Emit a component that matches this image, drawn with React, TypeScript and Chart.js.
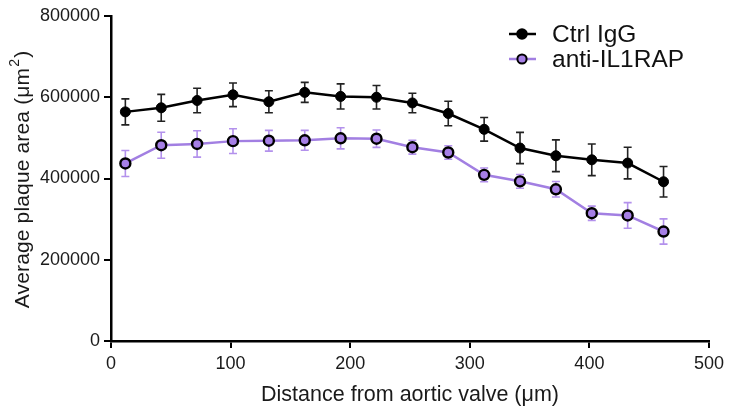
import React, { useEffect, useRef } from "react";
import { Chart, registerables } from "chart.js";

Chart.register(...registerables);

const distances = [12, 42, 72, 102, 132, 162, 192, 222, 252, 282, 312, 342, 372, 402, 432, 462];
const ctrlMean = [564000, 574000, 592000, 606000, 589000, 612000, 602000, 600000, 586000, 560000, 521000, 475000, 456000, 446000, 438000, 392000];
const ctrlSem = [32000, 33000, 30000, 29000, 27000, 24500, 31000, 29000, 24000, 30000, 29000, 38500, 39000, 39000, 39000, 37500];
const antiMean = [437000, 482000, 485000, 492000, 493000, 494000, 499000, 498000, 477000, 464000, 409000, 393000, 373500, 314500, 309000, 269500];
const antiSem = [32000, 32000, 32500, 30500, 25500, 24500, 26000, 21500, 17000, 16500, 17000, 17000, 19000, 17500, 31500, 31000];
const seriesNames = ["Ctrl IgG", "anti-IL1RAP"];
const xTicks = [0, 100, 200, 300, 400, 500];
const yTicks = [0, 200000, 400000, 600000, 800000];
const xTitle = "Distance from aortic valve (μm)";
const yTitleMain = "Average plaque area (μm";
const yTitleSup = "2";
const yTitleEnd = ")";

const FONT = "'Liberation Sans', Arial, sans-serif";
const TEXT = "#1a1a1a";
const BLACK = "#000000";
const PURPLE_LINE = "#a27fe2";
const PURPLE_FILL = "#a67fe6";
const PURPLE_ERR = "#b391ec";

export default function App() {
  const ref = useRef<HTMLCanvasElement | null>(null);

  useEffect(() => {
    if (!ref.current) return;
    const errs = [ctrlSem, antiSem];
    const means = [ctrlMean, antiMean];
    const errColors = ["#222222", PURPLE_ERR];

    const errorBars = {
      id: "errorBars",
      beforeDatasetsDraw(chart: any) {
        const ctx = chart.ctx;
        const ys = chart.scales.y;
        ctx.save();
        for (let d = 0; d < 2; d++) {
          const meta = chart.getDatasetMeta(d);
          ctx.strokeStyle = errColors[d];
          ctx.lineWidth = 1.6;
          meta.data.forEach((pt: any, j: number) => {
            const x = pt.x;
            const top = ys.getPixelForValue(means[d][j] + errs[d][j]);
            const bot = ys.getPixelForValue(means[d][j] - errs[d][j]);
            ctx.beginPath();
            ctx.moveTo(x, top);
            ctx.lineTo(x, bot);
            ctx.moveTo(x - 4, top);
            ctx.lineTo(x + 4, top);
            ctx.moveTo(x - 4, bot);
            ctx.lineTo(x + 4, bot);
            ctx.stroke();
          });
        }
        ctx.restore();
      },
    };

    const yTitlePlugin = {
      id: "yTitle",
      afterDraw(chart: any) {
        const ctx = chart.ctx;
        const area = chart.chartArea;
        ctx.save();
        ctx.translate(23, (area.top + area.bottom) / 2 + 1);
        ctx.rotate(-Math.PI / 2);
        ctx.fillStyle = TEXT;
        ctx.textBaseline = "middle";
        ctx.textAlign = "left";
        (ctx as any).letterSpacing = "0.15px";
        ctx.font = `21px ${FONT}`;
        const w1 = ctx.measureText(yTitleMain).width;
        const w3 = ctx.measureText(yTitleEnd).width;
        ctx.font = `14px ${FONT}`;
        const w2 = ctx.measureText(yTitleSup).width;
        const total = w1 + w2 + w3 + 2;
        let x = -total / 2;
        ctx.font = `21px ${FONT}`;
        ctx.fillText(yTitleMain, x, 0);
        x += w1 + 1;
        ctx.font = `14px ${FONT}`;
        ctx.fillText(yTitleSup, x, -8);
        x += w2 + 1;
        ctx.font = `21px ${FONT}`;
        ctx.fillText(yTitleEnd, x, 0);
        ctx.restore();
      },
    };

    const legend = {
      id: "customLegend",
      afterDraw(chart: any) {
        const ctx = chart.ctx;
        ctx.save();
        const rows = [
          { y: 34, line: BLACK, fill: BLACK, r: 4.8 },
          { y: 59, line: PURPLE_LINE, fill: PURPLE_FILL, r: 4.6 },
        ];
        rows.forEach((row, i) => {
          ctx.strokeStyle = row.line;
          ctx.lineWidth = 2.5;
          ctx.beginPath();
          ctx.moveTo(509, row.y);
          ctx.lineTo(536, row.y);
          ctx.stroke();
          ctx.beginPath();
          ctx.arc(522, row.y, row.r, 0, Math.PI * 2);
          ctx.fillStyle = row.fill;
          ctx.fill();
          ctx.strokeStyle = BLACK;
          ctx.lineWidth = 2;
          ctx.stroke();
          ctx.fillStyle = "#111111";
          ctx.font = `24.5px ${FONT}`;
          ctx.textAlign = "left";
          ctx.textBaseline = "middle";
          ctx.fillText(seriesNames[i], 552, row.y + 1);
        });
        ctx.restore();
      },
    };

    const chart = new Chart(ref.current, {
      type: "line",
      data: {
        datasets: [
          {
            label: seriesNames[0],
            data: distances.map((x, i) => ({ x, y: ctrlMean[i] })),
            borderColor: BLACK,
            borderWidth: 2.5,
            pointRadius: 5,
            pointBackgroundColor: BLACK,
            pointBorderColor: BLACK,
            pointBorderWidth: 1,
            tension: 0,
          },
          {
            label: seriesNames[1],
            data: distances.map((x, i) => ({ x, y: antiMean[i] })),
            borderColor: PURPLE_LINE,
            borderWidth: 2.5,
            pointRadius: 5,
            pointBackgroundColor: PURPLE_FILL,
            pointBorderColor: BLACK,
            pointBorderWidth: 2.4,
            tension: 0,
          },
        ],
      },
      options: {
        responsive: false,
        animation: false,
        devicePixelRatio: 1,
        layout: { padding: { left: 0, top: 16, right: 17, bottom: 0 } },
        plugins: { legend: { display: false }, tooltip: { enabled: false } },
        scales: {
          x: {
            type: "linear",
            min: 0,
            max: 500,
            afterFit: (s: any) => {
              s.height = 67;
            },
            afterBuildTicks: (s: any) => {
              s.ticks = xTicks.map((v) => ({ value: v }));
            },
            ticks: { color: TEXT, font: { family: FONT, size: 18 }, padding: 5, maxRotation: 0 },
            grid: { drawOnChartArea: false, drawTicks: true, tickLength: 7, color: BLACK, lineWidth: 2 },
            border: { display: true, color: BLACK, width: 2.5 },
            title: {
              display: true,
              text: xTitle,
              color: TEXT,
              font: { family: FONT, size: 21.5 },
              padding: { top: 0, bottom: 0 },
            },
          },
          y: {
            min: 0,
            max: 800000,
            afterFit: (s: any) => {
              s.width = 111;
            },
            afterBuildTicks: (s: any) => {
              s.ticks = yTicks.map((v) => ({ value: v }));
            },
            ticks: {
              color: TEXT,
              font: { family: FONT, size: 18 },
              padding: 4,
              callback: (v: any) => String(v),
            },
            grid: { drawOnChartArea: false, drawTicks: true, tickLength: 7, color: BLACK, lineWidth: 2 },
            border: { display: true, color: BLACK, width: 2.5 },
            title: { display: false },
          },
        },
      },
      plugins: [errorBars, yTitlePlugin, legend],
    });
    return () => chart.destroy();
  }, []);

  return (
    <div style={{ position: "absolute", left: 0, top: 0, width: 729, height: 408 }}>
      <canvas ref={ref} width={729} height={408} style={{ width: 729, height: 408 }} />
    </div>
  );
}
